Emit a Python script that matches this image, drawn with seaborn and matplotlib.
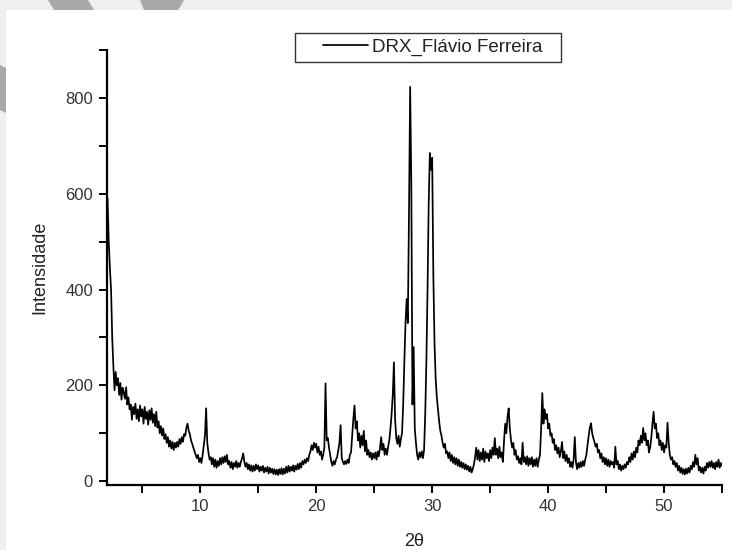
import numpy as np
import pandas as pd
import seaborn as sns
import matplotlib
matplotlib.use("Agg")
import matplotlib.pyplot as plt
from matplotlib.patches import Rectangle, Polygon
from matplotlib.ticker import MultipleLocator

# ---------------- data ----------------
two_theta_start = 2.0
two_theta_step = 0.1
intensity = [
    # 2.0 - 2.9
    590, 500, 445, 400, 300, 240, 190, 228, 200, 215,
    # 3.x
    180, 205, 170, 195, 185, 172, 196, 160, 175, 150,
    # 4.x
    160, 128, 155, 140, 162, 130, 150, 125, 158, 135,
    # 5.x
    150, 120, 155, 130, 145, 118, 148, 128, 152, 122,
    # 6.x
    140, 115, 145, 112, 125, 100, 115, 95, 110, 88,
    # 7.x
    98, 80, 92, 72, 85, 68, 82, 65, 80, 70,
    # 8.x
    82, 72, 88, 78, 92, 82, 98, 95, 112, 120,
    # 9.x
    105, 98, 85, 78, 70, 62, 55, 48, 55, 40,
    # 10.x
    48, 38, 55, 75, 95, 152, 80, 60, 45, 50,
    # 11.x
    35, 48, 30, 45, 28, 42, 32, 48, 35, 50,
    # 12.x
    38, 52, 40, 55, 35, 42, 28, 40, 25, 38,
    # 13.x
    30, 42, 28, 38, 30, 40, 48, 58, 40, 30,
    # 14.x
    38, 25, 35, 22, 33, 20, 32, 22, 35, 25,
    # 15.x
    33, 20, 30, 22, 32, 18, 28, 20, 30, 16,
    # 16.x
    28, 18, 26, 15, 25, 14, 24, 13, 25, 15,
    # 17.x
    27, 14, 26, 16, 30, 18, 32, 20, 30, 22,
    # 18.x
    33, 20, 32, 24, 36, 25, 38, 28, 42, 35,
    # 19.x
    45, 38, 48, 42, 55, 62, 75, 65, 80, 70,
    # 20.x
    78, 60, 72, 55, 62, 45, 55, 70, 204, 85,
    # 21.x
    90, 70, 55, 40, 32, 42, 35, 45, 50, 65,
    # 22.x
    80, 117, 48, 40, 35, 42, 36, 45, 38, 55,
    # 23.x
    60, 95, 130, 158, 110, 125, 85, 100, 70, 95,
    # 24.x
    75, 105, 62, 85, 55, 65, 50, 60, 45, 58,
    # 25.x
    48, 60, 45, 62, 52, 70, 92, 65, 78, 55,
    # 26.x
    68, 55, 72, 85, 110, 140, 180, 248, 130, 90,
    # 27.x
    78, 95, 72, 88, 100, 160, 250, 330, 380, 330,
    # 28.x
    560, 823, 620, 160, 280, 110, 80, 55, 45, 60,
    # 29.x
    50, 62, 48, 65, 140, 250, 400, 580, 685, 650,
    # 30.x
    675, 430, 290, 215, 175, 150, 125, 105, 95, 80,
    # 31.x
    70, 78, 58, 62, 48, 60, 42, 55, 38, 50,
    # 32.x
    35, 48, 32, 45, 30, 40, 28, 38, 25, 35,
    # 33.x
    24, 32, 20, 30, 18, 25, 35, 50, 70, 45,
    # 34.x
    65, 42, 60, 45, 68, 40, 62, 48, 58, 42,
    # 35.x
    65, 48, 70, 55, 90, 55, 68, 48, 72, 50,
    # 36.x
    60, 40, 85, 120, 100, 135, 152, 110, 85, 70,
    # 37.x
    80, 55, 65, 45, 52, 38, 48, 35, 80, 40,
    # 38.x
    50, 35, 52, 32, 48, 35, 50, 30, 45, 32,
    # 39.x
    48, 30, 45, 55, 110, 184, 120, 150, 130, 140,
    # 40.x
    110, 120, 95, 100, 80, 88, 65, 75, 58, 70,
    # 41.x
    50, 62, 82, 48, 62, 42, 55, 38, 48, 30,
    # 42.x
    40, 28, 45, 92, 40, 25, 38, 28, 40, 30,
    # 43.x
    42, 32, 45, 55, 75, 95, 112, 121, 100, 90,
    # 44.x
    82, 72, 78, 60, 65, 48, 58, 40, 50, 35,
    # 45.x
    48, 32, 45, 30, 42, 35, 40, 28, 72, 35,
    # 46.x
    42, 25, 35, 22, 32, 25, 35, 28, 40, 35,
    # 47.x
    50, 40, 58, 45, 62, 50, 70, 60, 85, 75,
    # 48.x
    95, 80, 111, 85, 100, 75, 85, 60, 70, 90,
    # 49.x
    120, 145, 110, 120, 90, 100, 75, 85, 65, 80,
    # 50.x
    60, 75, 70, 122, 80, 55, 45, 50, 35, 42,
    # 51.x
    30, 38, 22, 32, 18, 28, 15, 25, 14, 26,
    # 52.x
    16, 28, 18, 32, 25, 40, 30, 55, 35, 48,
    # 53.x
    22, 30, 18, 28, 16, 30, 22, 38, 28, 40,
    # 54.x
    30, 42, 28, 38, 25, 40, 30, 45, 28, 38,
    # 55.0
    32,
]
two_theta = np.round(two_theta_start + two_theta_step * np.arange(len(intensity)), 2)

series_label = "DRX_Flávio Ferreira"
x_label = "2θ"
y_label = "Intensidade"
x_ticks = [10, 20, 30, 40, 50]
y_ticks = [0, 200, 400, 600, 800]

df = pd.DataFrame({"two_theta": two_theta, "intensity": intensity})

# ---------------- figure ----------------
sns.set_theme(style="white")
plt.rcParams["font.family"] = ["Liberation Sans", "DejaVu Sans"]

W, H = 732, 550
fig = plt.figure(figsize=(W / 100, H / 100), dpi=100)
fig.patch.set_facecolor("#efefef")
# grey watermark fragments (only their margin parts stay visible)
for pts in ([(48, 0), (88, 0), (112, 40), (72, 40)],
            [(140, 0), (184, 0), (170, 25), (150, 25)],
            [(-20, 55), (10, 70), (10, 115), (-20, 100)]):
    fig.add_artist(Polygon([(px / W, 1 - py / H) for px, py in pts], closed=True,
                           transform=fig.transFigure, facecolor="#a9a9a9",
                           edgecolor="none", zorder=0.1))
# white page area
fig.add_artist(Rectangle((6 / W, 0), 1, (H - 10) / H, transform=fig.transFigure,
                         facecolor="white", edgecolor="none", zorder=0.2))

ax = fig.add_axes([107 / W, (H - 485) / H, (722 - 107) / W, (485 - 50) / H])
ax.set_facecolor("white")
ax.set_zorder(1)

sns.lineplot(data=df, x="two_theta", y="intensity", ax=ax, color="black",
             linewidth=1.25, estimator=None, sort=False, label=series_label)

ax.set_xlim(1.95, 55)
ax.set_ylim(-8, 900)
ax.set_xticks(x_ticks)
ax.set_yticks(y_ticks)
ax.xaxis.set_minor_locator(MultipleLocator(5))
ax.yaxis.set_minor_locator(MultipleLocator(100))

for s in ["top", "right"]:
    ax.spines[s].set_visible(False)
for s in ["left", "bottom"]:
    ax.spines[s].set_color("black")
    ax.spines[s].set_linewidth(1.6)

ax.tick_params(axis="both", which="both", direction="out", color="black",
               width=1.4, length=6, left=True, bottom=True)
ax.tick_params(axis="both", which="major", labelsize=12, labelcolor="#333333", pad=4)

ax.set_xlabel(x_label, fontsize=13, color="#222222", labelpad=14)
ax.set_ylabel(y_label, fontsize=13, color="#222222", labelpad=12)

# legend (frameless) + manual box outline
leg = ax.legend(loc="center left", bbox_to_anchor=(314 / W, 1 - 47.5 / H),
                bbox_transform=fig.transFigure, frameon=False, borderpad=0,
                handlelength=2.4, handletextpad=0.2, fontsize=13.5,
                labelcolor="#222222")
ax.add_artist(Rectangle((295 / W, 1 - 62 / H), (561 - 295) / W, 29 / H,
                        transform=fig.transFigure, facecolor="none",
                        edgecolor="#333333", linewidth=1.0, clip_on=False))

fig.savefig("out.png", dpi=100)
